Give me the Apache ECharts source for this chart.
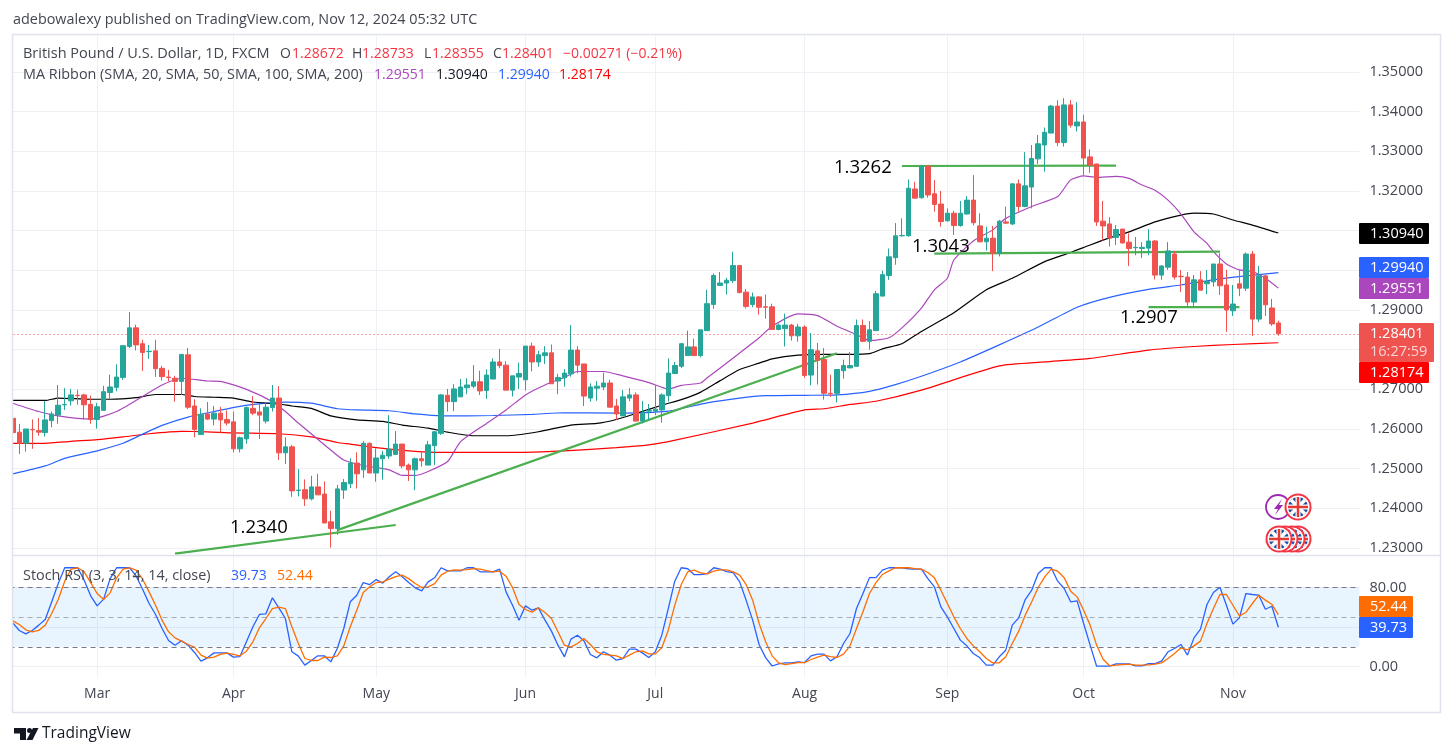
<!DOCTYPE html>
<html>
<head>
<meta charset="utf-8">
<title>GBP/USD</title>
<style>html,body{margin:0;padding:0;background:#fff}#main{width:1453px;height:756px}</style>
<script src="https://cdn.jsdelivr.net/npm/echarts@6/dist/echarts.min.js"></script>
</head>
<body>
<div id="main"></div>
<script>
// daily bars, one value per bar
var opens = [1.2627,1.2592,1.2564,1.2599,1.2596,1.2591,1.2621,1.2635,1.2661,1.2671,1.2685,1.2686,1.2662,1.2624,1.2647,1.2692,1.2705,1.2730,1.2808,1.2855,1.2815,1.2795,1.2797,1.2753,1.2731,1.2728,1.2720,1.2787,1.2658,1.2586,1.2638,1.2625,1.2640,1.2624,1.2618,1.2550,1.2575,1.2652,1.2643,1.2620,1.2654,1.2678,1.2540,1.2555,1.2445,1.2447,1.2424,1.2454,1.2436,1.2366,1.2349,1.2446,1.2462,1.2514,1.2497,1.2564,1.2489,1.2525,1.2532,1.2536,1.2562,1.2509,1.2497,1.2525,1.2509,1.2558,1.2589,1.2685,1.2669,1.2681,1.2704,1.2708,1.2719,1.2697,1.2726,1.2769,1.2761,1.2698,1.2731,1.2724,1.2809,1.2769,1.2785,1.2792,1.2721,1.2729,1.2739,1.2799,1.2764,1.2678,1.2703,1.2706,1.2716,1.2658,1.2633,1.2678,1.2686,1.2620,1.2645,1.2645,1.2648,1.2684,1.2740,1.2758,1.2785,1.2807,1.2785,1.2848,1.2914,1.2962,1.2968,1.2974,1.3012,1.2945,1.2914,1.2933,1.2908,1.2908,1.2851,1.2853,1.2862,1.2835,1.2857,1.2736,1.2797,1.2775,1.2690,1.2690,1.2747,1.2754,1.2758,1.2861,1.2821,1.2848,1.2935,1.2987,1.3032,1.3087,1.3087,1.3205,1.3183,1.3263,1.3193,1.3167,1.3125,1.3144,1.3113,1.3142,1.3177,1.3112,1.3072,1.3081,1.3043,1.3122,1.3117,1.3218,1.3161,1.3210,1.3281,1.3316,1.3346,1.3414,1.3322,1.3417,1.3364,1.3374,1.3286,1.3268,1.3124,1.3117,1.3083,1.3104,1.3071,1.3057,1.3055,1.3056,1.3074,1.2988,1.3008,1.3041,1.2985,1.2983,1.2920,1.2976,1.2966,1.2971,1.3016,1.2963,1.2898,1.2966,1.2955,1.3041,1.2877,1.2986,1.2905,1.28672];
var highs = [1.2627,1.2613,1.2600,1.2624,1.2628,1.2671,1.2644,1.2711,1.2703,1.2701,1.2699,1.2689,1.2684,1.2666,1.2709,1.2737,1.2763,1.2812,1.2895,1.2863,1.2825,1.2812,1.2825,1.2759,1.2749,1.2734,1.2789,1.2804,1.2675,1.2652,1.2668,1.2658,1.2656,1.2647,1.2644,1.2581,1.2657,1.2683,1.2663,1.2666,1.2711,1.2708,1.2579,1.2560,1.2499,1.2473,1.2482,1.2487,1.2468,1.2394,1.2459,1.2474,1.2526,1.2541,1.2569,1.2566,1.2551,1.2545,1.2635,1.2595,1.2562,1.2513,1.2528,1.2543,1.2570,1.2595,1.2688,1.2701,1.2713,1.2726,1.2728,1.2761,1.2747,1.2750,1.2778,1.2802,1.2771,1.2734,1.2767,1.2809,1.2818,1.2797,1.2809,1.2813,1.2739,1.2751,1.2862,1.2809,1.2764,1.2715,1.2721,1.2742,1.2724,1.2676,1.2698,1.2703,1.2692,1.2671,1.2663,1.2711,1.2690,1.2778,1.2769,1.2817,1.2848,1.2828,1.2850,1.2951,1.2992,1.2996,1.2981,1.3047,1.3012,1.2953,1.2944,1.2935,1.2939,1.2916,1.2866,1.2891,1.2865,1.2865,1.2861,1.2842,1.2817,1.2804,1.2737,1.2751,1.2775,1.2794,1.2876,1.2876,1.2872,1.2948,1.2999,1.3055,1.3119,1.3131,1.3229,1.3223,1.3266,1.3263,1.3228,1.3200,1.3156,1.3150,1.3175,1.3187,1.3240,1.3144,1.3110,1.3112,1.3127,1.3161,1.3219,1.3229,1.3298,1.3316,1.3341,1.3360,1.3417,1.3429,1.3434,1.3429,1.3424,1.3392,1.3305,1.3269,1.3175,1.3134,1.3114,1.3104,1.3093,1.3084,1.3071,1.3104,1.3076,1.3013,1.3071,1.3049,1.3001,1.2996,1.2988,1.2998,1.3001,1.3016,1.3043,1.3001,1.2963,1.3001,1.3045,1.3049,1.3011,1.2988,1.2928,1.28733];
var lows = [1.2591,1.2537,1.2543,1.2550,1.2583,1.2581,1.2604,1.2613,1.2648,1.2659,1.2661,1.2624,1.2613,1.2601,1.2647,1.2675,1.2695,1.2724,1.2804,1.2798,1.2746,1.2777,1.2731,1.2722,1.2720,1.2669,1.2686,1.2650,1.2579,1.2585,1.2623,1.2609,1.2589,1.2609,1.2541,1.2541,1.2563,1.2635,1.2575,1.2614,1.2644,1.2522,1.2512,1.2429,1.2430,1.2406,1.2420,1.2434,1.2363,1.2301,1.2333,1.2424,1.2451,1.2450,1.2477,1.2489,1.2467,1.2472,1.2525,1.2534,1.2501,1.2469,1.2446,1.2505,1.2509,1.2509,1.2585,1.2644,1.2645,1.2681,1.2688,1.2703,1.2686,1.2676,1.2726,1.2753,1.2698,1.2682,1.2701,1.2697,1.2745,1.2757,1.2764,1.2714,1.2688,1.2707,1.2732,1.2740,1.2658,1.2669,1.2671,1.2698,1.2655,1.2623,1.2633,1.2670,1.2619,1.2614,1.2621,1.2635,1.2616,1.2669,1.2739,1.2754,1.2785,1.2785,1.2781,1.2848,1.2903,1.2962,1.2939,1.2968,1.2942,1.2904,1.2907,1.2888,1.2878,1.2851,1.2849,1.2808,1.2823,1.2820,1.2729,1.2710,1.2712,1.2674,1.2681,1.2667,1.2727,1.2754,1.2758,1.2819,1.2800,1.2848,1.2935,1.2976,1.3014,1.3085,1.3085,1.3181,1.3181,1.3183,1.3148,1.3110,1.3123,1.3089,1.3110,1.3140,1.3113,1.3070,1.3050,1.2998,1.3035,1.3117,1.3114,1.3148,1.3159,1.3156,1.3268,1.3249,1.3346,1.3313,1.3312,1.3360,1.3350,1.3238,1.3246,1.3112,1.3075,1.3060,1.3064,1.3068,1.3011,1.3038,1.3031,1.3038,1.2977,1.2976,1.3001,1.2977,1.2945,1.2908,1.2908,1.2950,1.2940,1.2959,1.2938,1.2845,1.2885,1.2935,1.2948,1.2835,1.2870,1.2885,1.2860,1.28355];
var closes = [1.2591,1.2564,1.2600,1.2598,1.2592,1.2623,1.2638,1.2660,1.2662,1.2686,1.2684,1.2661,1.2624,1.2656,1.2694,1.2706,1.2731,1.2810,1.2855,1.2812,1.2793,1.2796,1.2752,1.2732,1.2730,1.2720,1.2788,1.2655,1.2599,1.2637,1.2625,1.2640,1.2623,1.2615,1.2550,1.2578,1.2654,1.2640,1.2635,1.2655,1.2678,1.2540,1.2555,1.2444,1.2446,1.2424,1.2454,1.2434,1.2363,1.2349,1.2449,1.2465,1.2514,1.2487,1.2564,1.2489,1.2527,1.2534,1.2549,1.2562,1.2507,1.2497,1.2525,1.2520,1.2560,1.2593,1.2686,1.2669,1.2701,1.2706,1.2711,1.2719,1.2696,1.2736,1.2769,1.2760,1.2698,1.2734,1.2740,1.2809,1.2769,1.2787,1.2792,1.2714,1.2730,1.2741,1.2799,1.2761,1.2683,1.2706,1.2708,1.2716,1.2655,1.2638,1.2681,1.2686,1.2620,1.2640,1.2647,1.2650,1.2686,1.2741,1.2760,1.2815,1.2807,1.2785,1.2850,1.2916,1.2987,1.2968,1.2975,1.3012,1.2944,1.2909,1.2933,1.2907,1.2907,1.2851,1.2862,1.2862,1.2835,1.2857,1.2735,1.2800,1.2773,1.2690,1.2689,1.2750,1.2760,1.2760,1.2861,1.2821,1.2850,1.2941,1.2989,1.3034,1.3087,1.3088,1.3207,1.3182,1.3263,1.3190,1.3166,1.3123,1.3144,1.3113,1.3144,1.3177,1.3120,1.3072,1.3081,1.3043,1.3124,1.3119,1.3218,1.3161,1.3213,1.3282,1.3319,1.3348,1.3414,1.3322,1.3417,1.3366,1.3374,1.3283,1.3265,1.3122,1.3112,1.3081,1.3103,1.3069,1.3055,1.3058,1.3058,1.3074,1.2988,1.3011,1.3049,1.2983,1.2984,1.2920,1.2976,1.2950,1.2972,1.3016,1.2961,1.2900,1.2915,1.2955,1.3041,1.2877,1.2986,1.2913,1.2865,1.28401];

// moving averages as [bar number, price] pairs read at the bends
var sma20 = [[1,1.2665],[5,1.2644],[8,1.2633],[13,1.2625],[17,1.2644],[21,1.2682],[24,1.2711],[27,1.2728],[31,1.2721],[33,1.2720],[37,1.2700],[41,1.2669],[43,1.2644],[45,1.2615],[48,1.2574],[50,1.2547],[52,1.2522],[55,1.2508],[59,1.2497],[61,1.2483],[63,1.2483],[65,1.2493],[68,1.2518],[70,1.2568],[74,1.2614],[77,1.2648],[80,1.2686],[83,1.2711],[86,1.2730],[88,1.2745],[92,1.2745],[95,1.2734],[99,1.2717],[102,1.2701],[104,1.2710],[107,1.2716],[108,1.2729],[112,1.2779],[116,1.2830],[118,1.2859],[122,1.2890],[125,1.2886],[128,1.2859],[131,1.2838],[133,1.2823],[136,1.2830],[138,1.2855],[141,1.2905],[143,1.2951],[145,1.2980],[146,1.3026],[149,1.3074],[152,1.3102],[154,1.3131],[158,1.3161],[162,1.3186],[164,1.3228],[166,1.3238],[168,1.3234],[171,1.3237],[173,1.3232],[175,1.3215],[177,1.3202],[179,1.3177],[181,1.3142],[183,1.3097],[185,1.3068],[186,1.3047],[188,1.3016],[190,1.3001],[192,1.2997],[194,1.2980],[196,1.29551]];
var sma50 = [[1,1.2672],[6,1.2672],[8,1.2678],[13,1.2675],[16,1.2675],[20,1.2679],[23,1.2687],[27,1.2687],[29,1.2682],[32,1.2680],[35,1.2678],[38,1.2668],[42,1.2663],[44,1.2658],[47,1.2652],[50,1.2633],[54,1.2623],[58,1.2619],[61,1.2610],[65,1.2602],[68,1.2592],[72,1.2583],[77,1.2583],[82,1.2593],[87,1.2610],[91,1.2614],[94,1.2624],[97,1.2639],[101,1.2660],[104,1.2674],[107,1.2693],[110,1.2722],[113,1.2750],[116,1.2766],[118,1.2777],[122,1.2786],[126,1.2788],[130,1.2788],[133,1.2790],[135,1.2802],[138,1.2815],[141,1.2846],[146,1.2893],[151,1.2951],[155,1.2980],[160,1.3022],[164,1.3045],[167,1.3064],[170,1.3082],[173,1.3097],[177,1.3122],[181,1.3139],[183,1.3144],[186,1.3142],[189,1.3127],[192,1.3114],[196,1.30940]];
var sma100 = [[1,1.2487],[6,1.2507],[9,1.2526],[14,1.2545],[18,1.2564],[21,1.2587],[24,1.2609],[28,1.2630],[32,1.2644],[36,1.2657],[40,1.2665],[43,1.2668],[47,1.2665],[51,1.2651],[54,1.2648],[59,1.2646],[63,1.2638],[67,1.2633],[75,1.2634],[81,1.2637],[86,1.2641],[94,1.2640],[102,1.2645],[108,1.2666],[113,1.2678],[117,1.2684],[123,1.2685],[128,1.2686],[133,1.2695],[137,1.2712],[141,1.2733],[147,1.2769],[153,1.2812],[159,1.2857],[165,1.2907],[170,1.2932],[176,1.2952],[181,1.2963],[186,1.2976],[191,1.2986],[196,1.29940]];
var sma200 = [[1,1.2564],[6,1.2564],[10,1.2569],[14,1.2573],[18,1.2580],[22,1.2588],[27,1.2594],[31,1.2593],[35,1.2590],[42,1.2588],[47,1.2580],[51,1.2566],[53,1.2562],[57,1.2553],[62,1.2545],[67,1.2541],[78,1.2541],[86,1.2545],[94,1.2553],[99,1.2560],[102,1.2568],[115,1.2615],[123,1.2648],[126,1.2651],[130,1.2662],[134,1.2670],[141,1.2698],[153,1.2759],[160,1.2769],[167,1.2778],[176,1.2799],[183,1.2808],[189,1.2813],[196,1.28174]];

// stoch RSI, one value per bar
var stochK = [44.2,36.5,33,36.5,41.9,47.6,65.5,84,100,100,100,87.4,71.6,61.4,68.2,89,100,100,100,91.8,78.3,63.8,52.7,38.5,26.3,21.6,26,21.6,14.2,5.4,8.8,13.8,13.8,13.8,9.5,10.1,25,40.2,52.7,53.3,69.5,59.4,48.6,14.9,10.5,1.4,6.1,10.8,10.8,4.7,18.2,38.5,65.5,72.2,85,83,88,84.4,90.8,95.9,90.8,85,79.7,76.6,85.7,89.8,100,96.9,96.9,96.9,100,100,95.9,95.9,95.9,98.6,75.6,62.1,46.9,61.4,57,59.4,46.9,35.8,21.6,9.8,27.7,31.7,26,12.2,8.8,14.9,11.5,6.4,8.1,17.6,17.6,13.8,9.1,14.9,31.7,58.7,86.4,100,99,93,93,94,100,98.6,96,95,85.7,67,47,22,9,0.5,2.7,3.7,3.7,4.7,4,10.8,12.5,12.5,5.7,9.8,23.3,33.4,58.7,73.9,90,90,97.6,100,100,100,99,98.6,98.6,89,80.7,60.4,50.3,38.5,26.7,20.9,13.2,8.8,1.4,1.4,9.8,16.5,41.9,49.3,67.8,77.3,94.2,100,100,86.4,79,65.5,66.5,43.5,21.6,0.3,0.3,0.3,2.7,2.7,2.7,0.7,0.7,3,3,5.4,14.9,18.2,22.3,11.5,29,37.8,62.8,74.9,80.3,62,42.9,49.3,73.9,72.9,72.2,58,61,39.73];
var stochD = [46.2,42.5,37.1,35.1,36.5,41.9,53.7,67.8,86.4,98.6,100,95.9,85,73.9,67.8,74.6,89.8,98.6,100,97.6,88.4,75.6,62.1,46.9,35.1,29,25.7,22.3,19.6,11.5,8.4,9.5,12.2,13.5,12.2,10.8,15.5,25,39.2,48.6,58.7,60.1,58.7,40.2,23.3,8.1,6.1,6.1,9.5,9.1,10.8,20.9,40.2,57,74.9,80.7,85,85.7,88.4,91.1,92.5,89,84,80,80.7,84,92.5,96.5,97.9,97.6,98.2,99.2,98.6,97.2,95.9,96.5,91.5,80,62.8,57.7,55,59.4,54.7,48.6,35.1,21.6,19.6,23.3,28.4,22.3,14.9,12.2,11.5,10.8,8.1,11.5,14.9,15.9,12.8,12.8,18.9,36.8,62.1,83,95.9,97.6,94.9,93.8,96.5,97.9,97.9,95.9,92.5,83,67.2,43.5,25,10.8,3.7,2,3,4,4,7.1,9.5,11.5,10.1,9.1,12.5,20.9,38.5,55.4,73.9,85,93.2,96.9,100,100,100,99.2,98.6,95.2,89.8,77.3,63.8,50.3,38.5,28.4,20.9,14.9,8.1,3.7,3.7,9.8,23.3,35.8,52,65.5,80,90.8,98.6,96.5,89.8,76.3,70.5,57,41.9,21.6,7.4,0.7,1.4,2,2.4,1.4,1.4,1.7,2.4,3.7,8.1,13.2,18.9,16.9,20.9,25.7,43.5,58.7,72.9,72.9,62,51.3,54.7,63.8,72.2,67.2,63,52.44];

// hand drawn green lines on the chart, [bar number, price]
var trendLow = [[26,1.2286],[60,1.2358]];
var trendUp = [[51,1.2345],[128,1.2791]];
var levelHigh = [[138,1.3263],[171,1.3264]];
var levelMid = [[143,1.3042],[187,1.3047]];
var levelLow = [[176,1.2907],[190,1.2907]];

var monthNames = ['Jan','Feb','Mar','Apr','May','Jun','Jul','Aug','Sep','Oct','Nov','Dec'];
var fontName = '"Open Sans", sans-serif';

chart01();

// weekdays from 13 Feb 2024, 12 empty slots after the last bar
function makeDates(count) {
    var out = [];
    var d = new Date(Date.UTC(2024, 1, 13));
    while (out.length < count) {
        var wd = d.getUTCDay();
        if (wd != 0 && wd != 6) out.push(d.toISOString().slice(0, 10));
        d = new Date(d.getTime() + 86400000);
    }
    return out;
}

function toBars(points) {
    return points.map(function(p) { return [p[0] - 1, p[1]]; });
}

function txt(x, y, str, color, size) {
    return {
        type: 'text', z: 120, silent: true,
        style: { x: x, y: y, text: str, fill: color, font: (size || 14) + 'px ' + fontName, verticalAlign: 'middle', align: 'left' }
    };
}

function box(x, y, w, h, fill, z) {
    return { type: 'rect', z: z || 110, silent: true, shape: { x: x, y: y, width: w, height: h, r: 1 }, style: { fill: fill } };
}

function flag(cx, cy, z) {
    var r = 10;
    var lines = [
        [-r * 0.7, -r * 0.7, r * 0.7, r * 0.7, '#fff', 3.5],
        [-r * 0.7, r * 0.7, r * 0.7, -r * 0.7, '#fff', 3.5],
        [-r, 0, r, 0, '#fff', 5],
        [0, -r, 0, r, '#fff', 5],
        [-r, 0, r, 0, '#e53935', 2.5],
        [0, -r, 0, r, '#e53935', 2.5]
    ];
    var out = [
        { type: 'circle', z: z, silent: true, shape: { cx: cx, cy: cy, r: 13.5 }, style: { fill: '#f23645' } },
        { type: 'circle', z: z, silent: true, shape: { cx: cx, cy: cy, r: 11.5 }, style: { fill: '#fff' } },
        { type: 'circle', z: z, silent: true, shape: { cx: cx, cy: cy, r: r }, style: { fill: '#1c4fa0' } }
    ];
    lines.forEach(function(l) {
        out.push({ type: 'line', z: z, silent: true, shape: { x1: cx + l[0], y1: cy + l[1], x2: cx + l[2], y2: cy + l[3] }, style: { stroke: l[4], lineWidth: l[5] } });
    });
    return out;
}

function chart01() {
    var myChart = echarts.init(document.getElementById('main'));
    var barCount = 208;
    var band = 6.49;
    var dates = makeDates(barCount);
    var candles = opens.map(function(o, i) { return [o, closes[i], lows[i], highs[i]]; });
    var dark = '#131722';
    var label = '#434651';
    var down = '#ef5350';
    var lineBase = { type: 'line', symbol: 'none', silent: true, clip: false, animation: false };

    function maLine(points, color) {
        return Object.assign({}, lineBase, { xAxisIndex: 0, yAxisIndex: 0, data: toBars(points), smooth: 0.2, lineStyle: { color: color, width: 1.2 }, z: 3 });
    }
    function trend(points) {
        return Object.assign({}, lineBase, { xAxisIndex: 0, yAxisIndex: 0, data: toBars(points), lineStyle: { color: '#4caf50', width: 2.2 }, z: 4 });
    }
    function dashed(v, color) {
        return { yAxis: v, lineStyle: { color: color, type: [5, 4], width: 1 } };
    }
    function monthStart(i) {
        return i > 0 && dates[i].slice(5, 7) != dates[i - 1].slice(5, 7);
    }

    var gridLine = { show: true, lineStyle: { color: '#eef0f5', width: 1 } };

    var graphics = [
        box(0, 34, 12, 679, '#fff', 100),
        { type: 'rect', z: 101, silent: true, shape: { x: 12.5, y: 34.5, width: 1428, height: 678 }, style: { fill: 'none', stroke: '#e0e3eb', lineWidth: 1.5 } },
        { type: 'line', z: 101, silent: true, shape: { x1: 13, y1: 555.5, x2: 1440, y2: 555.5 }, style: { stroke: '#e0e3eb', lineWidth: 1.5 } },
        txt(13, 20, 'adebowalexy published on TradingView.com, Nov 12, 2024 05:32 UTC', label, 14.4),
        txt(23, 54, 'British Pound / U.S. Dollar, 1D, FXCM', label, 14.5),
        txt(280, 54, 'O', label), txt(292, 54, '1.28672', '#f23645'),
        txt(352, 54, 'H', label), txt(362, 54, '1.28733', '#f23645'),
        txt(424, 54, 'L', label), txt(432, 54, '1.28355', '#f23645'),
        txt(493, 54, 'C', label), txt(502, 54, '1.28401', '#f23645'),
        txt(563, 54, '\u22120.00271 (\u22120.21%)', '#f23645'),
        txt(23, 75, 'MA Ribbon (SMA, 20, SMA, 50, SMA, 100, SMA, 200)', label, 14.4),
        txt(374, 75, '1.29551', '#ab47bc'), txt(436, 75, '1.30940', dark),
        txt(498, 75, '1.29940', '#2962ff'), txt(559, 75, '1.28174', '#ff0000'),
        txt(23, 576, 'Stoch RSI (3, 3, 14, 14, close)', label, 14.4),
        txt(231, 576, '39.73', '#2962ff'), txt(277, 576, '52.44', '#ff6d00'),
        txt(834, 168, '1.3262', '#000', 18.5), txt(912, 247, '1.3043', '#000', 18.5),
        txt(1120, 318, '1.2907', '#000', 18.5), txt(230, 528, '1.2340', '#000', 18.5),
        box(1359, 223, 70, 21, '#000'), txt(1370, 233.5, '1.30940', '#fff', 14.5),
        box(1359, 257, 70, 21, '#2962ff'), txt(1370, 267.5, '1.29940', '#fff', 14.5),
        box(1359, 278, 70, 21, '#ab47bc'), txt(1370, 288.5, '1.29551', '#fff', 14.5),
        box(1359, 323, 75, 39, '#ef5350'), txt(1370, 334, '1.28401', '#fff', 14.5), txt(1370, 352, '16:27:59', 'rgba(255,255,255,0.75)', 14.5),
        box(1359, 362, 70, 21, '#ff0000', 111), txt(1370, 372.5, '1.28174', '#fff', 14.5),
        box(1359, 596, 54, 21, '#ff6d00'), txt(1370, 606.5, '52.44', '#fff', 14.5),
        box(1359, 617, 54, 21, '#2962ff'), txt(1370, 627.5, '39.73', '#fff', 14.5),
        { type: 'circle', z: 102, silent: true, shape: { cx: 1278, cy: 507, r: 12 }, style: { fill: '#fff', stroke: '#9c27b0', lineWidth: 1.8 } },
        { type: 'polygon', z: 102, silent: true, shape: { points: [[1282, 499], [1274, 509], [1278, 509], [1275, 515], [1283, 505], [1279, 505]] }, style: { fill: '#9c27b0' } },
        // TV logo
        { type: 'polygon', z: 102, silent: true, shape: { points: [[14, 728], [26, 728], [26, 740], [20, 740], [20, 733.5], [14, 733.5]] }, style: { fill: dark } },
        { type: 'circle', z: 102, silent: true, shape: { cx: 29.5, cy: 730.5, r: 2.5 }, style: { fill: dark } },
        { type: 'polygon', z: 102, silent: true, shape: { points: [[33, 728], [38.5, 728], [32.5, 740], [26.5, 740]] }, style: { fill: dark } },
        txt(42, 734, 'TradingView', dark, 15.5)
    ];
    graphics = graphics
        .concat(flag(1298, 507, 103))
        .concat(flag(1298, 539, 103)).concat(flag(1292, 539, 104)).concat(flag(1285, 539, 105)).concat(flag(1279, 539, 106));

    var option = {
        animation: false,
        backgroundColor: '#fff',
        textStyle: { fontFamily: fontName },
        grid: [
            { left: 9.55, top: 72, width: barCount * band, height: 476 },
            { left: 9.55, top: 587.5, width: barCount * band, height: 79 },
            { left: 9.55 + band / 2, top: 35, width: (barCount - 1) * band, height: 642 }
        ],
        xAxis: [
            { type: 'category', gridIndex: 0, data: dates, axisLine: { show: false }, axisTick: { show: false }, axisLabel: { show: false }, splitLine: { show: false } },
            { type: 'category', gridIndex: 1, data: dates, axisLine: { show: false }, axisTick: { show: false }, axisLabel: { show: false }, splitLine: { show: false } },
            {
                type: 'category', gridIndex: 2, data: dates, boundaryGap: false,
                axisLine: { show: false }, axisTick: { show: false },
                splitLine: { show: true, lineStyle: gridLine.lineStyle, interval: monthStart },
                axisLabel: {
                    color: label, fontSize: 14, margin: 10, interval: monthStart,
                    formatter: function(v) { return monthNames[parseInt(v.slice(5, 7), 10) - 1]; }
                }
            }
        ],
        yAxis: [
            {
                type: 'value', gridIndex: 0, position: 'right', min: 1.23, max: 1.35, interval: 0.01, scale: true,
                axisLine: { show: false }, axisTick: { show: false }, splitLine: gridLine,
                axisLabel: { color: label, fontSize: 14.5, margin: 10, formatter: function(v) { return v.toFixed(5); } }
            },
            {
                type: 'value', gridIndex: 1, position: 'right', min: 0, max: 80, interval: 40,
                axisLine: { show: false }, axisTick: { show: false }, splitLine: gridLine,
                axisLabel: { color: label, fontSize: 14.5, margin: 10, formatter: function(v) { return v == 40 ? '' : v.toFixed(2); } }
            },
            { type: 'value', gridIndex: 2, min: 0, max: 1, show: false, splitLine: { show: false } }
        ],
        series: [
            {
                type: 'candlestick', xAxisIndex: 0, yAxisIndex: 0, data: candles, barWidth: 5, silent: true, z: 5,
                itemStyle: { color: '#26a69a', color0: down, borderColor: '#26a69a', borderColor0: down, borderWidth: 1 },
                markLine: {
                    silent: true, symbol: 'none', animation: false, precision: 5, label: { show: false },
                    data: [{ yAxis: 1.28401, lineStyle: { color: down, type: [1, 3], width: 1 } }]
                }
            },
            maLine(sma200, '#ff0000'),
            maLine(sma100, '#2962ff'),
            maLine(sma50, '#000000'),
            maLine(sma20, '#ab47bc'),
            trend(trendLow), trend(trendUp), trend(levelHigh), trend(levelMid), trend(levelLow),
            Object.assign({}, lineBase, {
                xAxisIndex: 1, yAxisIndex: 1, data: stochD, lineStyle: { color: '#ff6d00', width: 1.3 }, z: 4,
                markArea: { silent: true, animation: false, itemStyle: { color: 'rgba(33,150,243,0.1)' }, data: [[{ yAxis: 20 }, { yAxis: 80 }]] },
                markLine: {
                    silent: true, symbol: 'none', animation: false, label: { show: false },
                    data: [dashed(80, '#787b86'), dashed(50, 'rgba(120,123,134,0.6)'), dashed(20, '#787b86')]
                }
            }),
            Object.assign({}, lineBase, { xAxisIndex: 1, yAxisIndex: 1, data: stochK, lineStyle: { color: '#2962ff', width: 1.3 }, z: 3 })
        ],
        graphic: { elements: graphics }
    };
    myChart.setOption(option);
}
</script>
</body>
</html>
